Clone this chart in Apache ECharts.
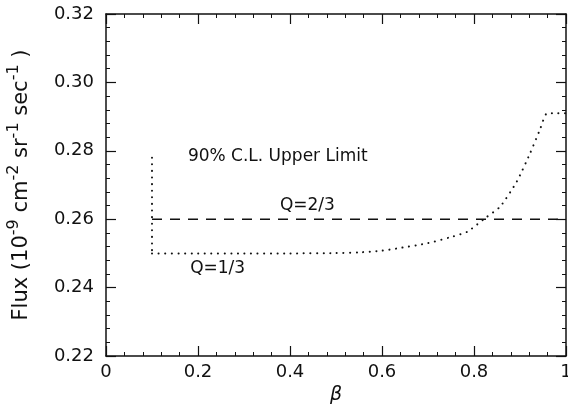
<!DOCTYPE html>
<html>
<head>
<meta charset="utf-8">
<script src="https://cdn.jsdelivr.net/npm/echarts@6/dist/echarts.min.js"></script>
<style>
  html, body { margin: 0; padding: 0; background: #fff; }
  #chart { width: 568px; height: 408px; }
</style>
</head>
<body>
<div id="chart"></div>
<script>
// Q=1/3 upper limit (dotted), vertical cut at beta = 0.1
var cutBeta = [0.1, 0.1];
var cutFlux = [0.278, 0.25];

var q13Beta = [0.1, 0.2, 0.3, 0.4, 0.5, 0.55, 0.6, 0.64, 0.7, 0.75, 0.785, 0.824, 0.857, 0.893, 0.922, 0.943, 0.957, 0.97, 1.0];
var q13Flux = [0.25, 0.25, 0.25, 0.25, 0.2501, 0.2503, 0.2508, 0.2516, 0.253, 0.2548, 0.2563, 0.2603, 0.2637, 0.271, 0.2793, 0.2861, 0.2908, 0.291, 0.291];

// Q=2/3 upper limit (dashed)
var q23Beta = [0.1, 1.0];
var q23Flux = [0.26, 0.26];

// text notes: [beta, flux, text]
var notes = [
    [0.178, 0.2782, '90% C.L. Upper Limit'],
    [0.378, 0.2639, 'Q=2/3'],
    [0.183, 0.2457, 'Q=1/3']
];

function zip(xs, ys) {
    return xs.map(function (x, i) { return [x, ys[i]]; });
}

var chart = echarts.init(document.getElementById('chart'));
var ink = '#111';
var font = 'DejaVu Sans';

function frameAxis(pos, extra) {
    var ax = {
        type: 'value',
        position: pos,
        axisLine: { show: true, onZero: false, lineStyle: { color: ink, width: 1.5 } },
        axisTick: { show: true, inside: true, length: 10, lineStyle: { color: ink, width: 1.2 } },
        minorTick: { show: true, splitNumber: 5, length: 4, lineStyle: { color: ink, width: 1 } },
        splitLine: { show: false },
        axisLabel: { show: false }
    };
    return Object.assign(ax, extra);
}

option = {
    backgroundColor: '#fff',
    animation: false,
    grid: { left: 106, right: 2, top: 14, bottom: 52, outerBoundsMode: 'none', containLabel: false },
    xAxis: [
        frameAxis('bottom', {
            min: 0, max: 1, interval: 0.2,
            name: 'β',
            nameLocation: 'middle',
            nameGap: 28,
            nameTextStyle: { color: ink, fontSize: 19, fontFamily: font, fontStyle: 'italic' },
            axisLabel: {
                show: true, margin: 7, color: ink, fontSize: 18, fontFamily: font,
                formatter: function (v) { return v === 0 ? '0' : (v === 1 ? '1' : v.toFixed(1)); }
            }
        }),
        frameAxis('top', { min: 0, max: 1, interval: 0.2 })
    ],
    yAxis: [
        frameAxis('left', {
            min: 0.22, max: 0.32, interval: 0.02,
            name: '{n|Flux (10}{s|-9}{n| cm}{s|-2}{n| sr}{s|-1}{n| sec}{s|-1}{n| )}',
            nameLocation: 'middle',
            nameGap: 74,
            nameRotate: 90,
            nameTextStyle: {
                rich: {
                    n: { color: ink, fontSize: 21, fontFamily: font, verticalAlign: 'bottom', lineHeight: 26 },
                    s: { color: ink, fontSize: 16, fontFamily: font, verticalAlign: 'top', lineHeight: 26, padding: [0, 0, 12, 0] }
                }
            },
            axisLabel: {
                show: true, margin: 12, color: ink, fontSize: 18, fontFamily: font,
                formatter: function (v) { return v.toFixed(2); }
            }
        }),
        frameAxis('right', { min: 0.22, max: 0.32, interval: 0.02 })
    ],
    series: [
        {
            name: 'cut',
            type: 'line',
            data: zip(cutBeta, cutFlux),
            showSymbol: false,
            lineStyle: { color: ink, width: 2, type: [0.1, 6.5], cap: 'round' }
        },
        {
            name: 'Q=1/3',
            type: 'line',
            data: zip(q13Beta, q13Flux),
            smooth: 0.2,
            showSymbol: false,
            lineStyle: { color: ink, width: 2, type: [0.1, 6.5], cap: 'round' }
        },
        {
            name: 'Q=2/3',
            type: 'line',
            data: zip(q23Beta, q23Flux),
            showSymbol: false,
            lineStyle: { color: ink, width: 1.5, type: [10, 8] }
        },
        {
            name: 'notes',
            type: 'scatter',
            symbolSize: 0,
            data: notes,
            itemStyle: { opacity: 1 },
            label: {
                show: true,
                position: 'inside',
                align: 'left',
                color: ink,
                fontSize: 17,
                fontFamily: font,
                formatter: function (p) { return p.data[2]; }
            }
        }
    ]
};
chart.setOption(option);
</script>
</body>
</html>
